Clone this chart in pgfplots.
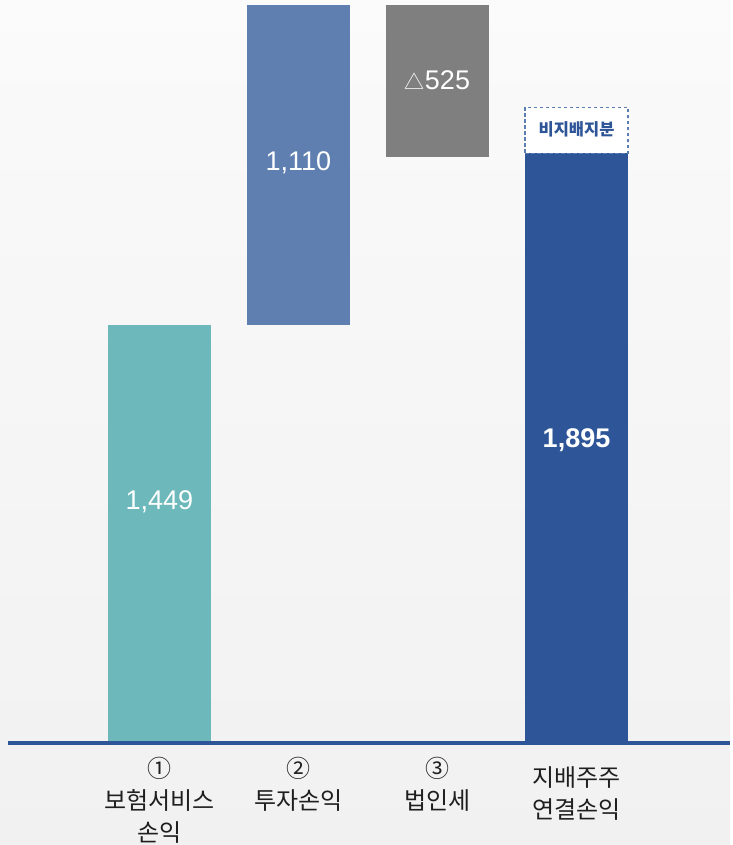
\documentclass[border=0pt]{standalone}
\usepackage{fontspec}
\setmainfont{Liberation Sans}
\newfontfamily\kr{Noto Sans CJK KR}
\usepackage{pgfplots}
\pgfplotsset{compat=1.18}

\definecolor{cteal}{HTML}{6CB8BA}
\definecolor{cblue}{HTML}{5E7FAF}
\definecolor{cgray}{HTML}{7F7F7F}
\definecolor{cnavy}{HTML}{2E5597}
\definecolor{cdash}{HTML}{5B7DB1}
\pgfdeclareverticalshading{bgshade}{100bp}{color(0bp)=(black!7); color(40bp)=(black!4.5); color(72bp)=(black!2); color(82bp)=(white); color(100bp)=(white)}

\pgfplotsset{
  wf/.style={
    at={(0pt,103pt)}, anchor=south west,
    scale only axis, width=730pt, height=742pt,
    xmin=-1.147, xmax=4.104, ymin=0, ymax=2578,
    ybar stacked, bar width=103pt,
    axis lines=none, xtick=\empty, ytick=\empty,
    clip=false,
  }
}

\begin{document}
\begin{tikzpicture}
\shade[shading=bgshade] (0,0) rectangle (730pt,845pt);

% bars: invisible base + floating segments
\begin{axis}[wf]
\addplot[draw=none, fill=none] coordinates {(0,0) (1,1449) (2,2034) (3,0)};
\addplot[draw=none, fill=cteal] coordinates {(0,1449) (1,0) (2,0) (3,0)};
\addplot[draw=none, fill=cblue] coordinates {(0,0) (1,1110) (2,0) (3,0)};
\addplot[draw=none, fill=cgray] coordinates {(0,0) (1,0) (2,525) (3,0)};
\addplot[draw=none, fill=cnavy] coordinates {(0,0) (1,0) (2,0) (3,2045)};
\end{axis}

% dashed box (non-controlling interest)
\begin{axis}[wf]
\addplot[draw=none, fill=none] coordinates {(3,2045)};
\addplot[fill=white, draw=cdash, line width=1.2pt, dash pattern=on 3.5pt off 2.5pt] coordinates {(3,160)};
\end{axis}

% texts and base line on top
\begin{axis}[wf]
\addplot[draw=none, fill=none] coordinates {(0,0)};
\draw[cnavy, line width=4pt] ([yshift=-1pt]rel axis cs:0.011,0) -- ([yshift=-1pt]rel axis cs:1,0);

\node[text=white, font=\fontsize{27}{30}\selectfont] at (axis cs:0,834) {1,449};
\node[text=white, font=\fontsize{27}{30}\selectfont] at (axis cs:1,2012) {1,110};
\node[text=white, font=\fontsize{27}{30}\selectfont] at (axis cs:2,2300) {{\kr\fontsize{20}{24}\selectfont △}525};
\node[text=white, font=\bfseries\fontsize{27}{30}\selectfont] at (axis cs:3,1049) {1,895};
\node[text=cnavy, font=\kr\bfseries\fontsize{16.5}{18}\selectfont] at (axis cs:3,2127) {비지배지분};

\tikzset{cat/.style={anchor=north, inner sep=0pt, align=center, text=black!88, font=\kr\fontsize{24}{32}\selectfont}}
\node[cat, yshift=-15pt] at (axis cs:0,0) {①\\보험서비스\\손익};
\node[cat, yshift=-15pt] at (axis cs:1,0) {②\\투자손익};
\node[cat, yshift=-15pt] at (axis cs:2,0) {③\\법인세};
\node[cat, yshift=-24pt] at (axis cs:3,0) {지배주주\\연결손익};
\end{axis}
\end{tikzpicture}
\end{document}
